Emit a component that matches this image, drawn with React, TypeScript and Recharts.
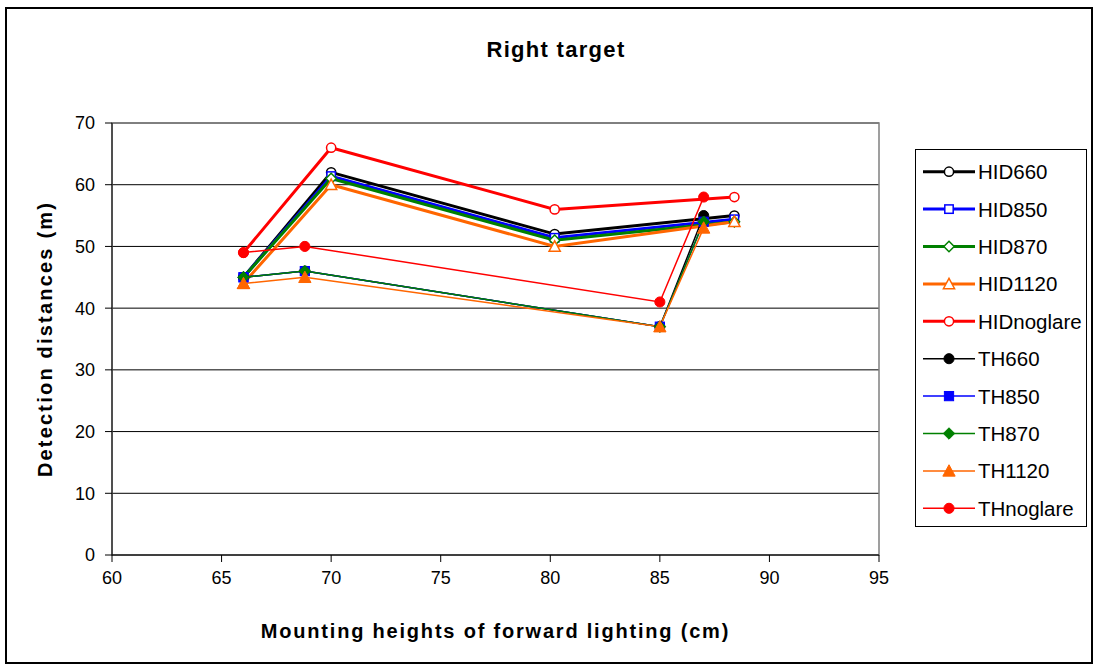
import React from "react";
import {
  LineChart,
  Line,
  XAxis,
  YAxis,
  CartesianGrid,
  ReferenceArea,
} from "recharts";

// x positions (cm) for the two lamp groups
const hidHeights = [66, 70, 80.2, 88.4];
const thHeights = [66, 68.8, 85, 87];

// detection distances (m)
const hid660 = [45, 62, 52, 55];
const hid850 = [45, 61.4, 51.4, 54.4];
const hid870 = [45, 61, 51, 54];
const hid1120 = [44, 60, 50, 54];
const hidNoglare = [49, 66, 56, 58];
const th660 = [45, 46, 37, 55];
const th850 = [45, 46, 37, 54];
const th870 = [45, 46, 37, 54];
const th1120 = [44, 45, 37, 53];
const thNoglare = [49, 50, 41, 58];

const xTicks = [60, 65, 70, 75, 80, 85, 90, 95];
const yTicks = [0, 10, 20, 30, 40, 50, 60, 70];

type Shape = "circle" | "square" | "diamond" | "triangle";

const series = [
  { name: "HID660", xs: hidHeights, ys: hid660, color: "#000000", shape: "circle", filled: false },
  { name: "HID850", xs: hidHeights, ys: hid850, color: "#0000ff", shape: "square", filled: false },
  { name: "HID870", xs: hidHeights, ys: hid870, color: "#008000", shape: "diamond", filled: false },
  { name: "HID1120", xs: hidHeights, ys: hid1120, color: "#ff6600", shape: "triangle", filled: false },
  { name: "HIDnoglare", xs: hidHeights, ys: hidNoglare, color: "#ff0000", shape: "circle", filled: false },
  { name: "TH660", xs: thHeights, ys: th660, color: "#000000", shape: "circle", filled: true },
  { name: "TH850", xs: thHeights, ys: th850, color: "#0000ff", shape: "square", filled: true },
  { name: "TH870", xs: thHeights, ys: th870, color: "#008000", shape: "diamond", filled: true },
  { name: "TH1120", xs: thHeights, ys: th1120, color: "#ff6600", shape: "triangle", filled: true },
  { name: "THnoglare", xs: thHeights, ys: thNoglare, color: "#ff0000", shape: "circle", filled: true },
] as { name: string; xs: number[]; ys: number[]; color: string; shape: Shape; filled: boolean }[];

const FONT = "Arial, 'Liberation Sans', sans-serif";

function Marker({ cx, cy, shape, color, filled }: { cx: number; cy: number; shape: Shape; color: string; filled: boolean }) {
  const fill = filled ? color : "#ffffff";
  const sw = filled ? 1 : 1.5;
  const s = filled ? 1.1 : 1;
  if (shape === "circle") {
    return <circle cx={cx} cy={cy} r={4.6 * s} fill={fill} stroke={color} strokeWidth={sw} />;
  }
  if (shape === "square") {
    const h = 4.2 * s;
    return <rect x={cx - h} y={cy - h} width={h * 2} height={h * 2} fill={fill} stroke={color} strokeWidth={sw} />;
  }
  if (shape === "diamond") {
    const h = 5.2 * s;
    return (
      <polygon
        points={`${cx},${cy - h} ${cx + h},${cy} ${cx},${cy + h} ${cx - h},${cy}`}
        fill={fill}
        stroke={color}
        strokeWidth={sw}
      />
    );
  }
  const h = 5.6 * s;
  return (
    <polygon
      points={`${cx},${cy - h} ${cx + h},${cy + h * 0.85} ${cx - h},${cy + h * 0.85}`}
      fill={fill}
      stroke={color}
      strokeWidth={sw}
    />
  );
}

function LegendBox() {
  return (
    <svg width={172} height={378} style={{ display: "block" }}>
      <rect x={0.5} y={0.5} width={171} height={377} fill="#fff" stroke="#000" strokeWidth={1} />
      {series.map((s, i) => {
        const y = 22.7 + i * 37.4;
        return (
          <g key={s.name}>
            <line x1={8} x2={60} y1={y} y2={y} stroke={s.color} strokeWidth={s.filled ? 1.5 : 3} />
            <Marker cx={34} cy={y} shape={s.shape} color={s.color} filled={s.filled} />
            <text x={63} y={y + 7.5} fontSize={20.5} fontFamily={FONT} fill="#000">
              {s.name}
            </text>
          </g>
        );
      })}
    </svg>
  );
}

export default function App() {
  return (
    <div style={{ position: "absolute", left: 0, top: 0, width: 1098, height: 669, background: "#fff", fontFamily: FONT }}>
      <div
        style={{
          position: "absolute",
          left: 5,
          top: 7,
          width: 1084,
          height: 653,
          border: "2px solid #000",
        }}
      />
      <div
        style={{
          position: "absolute",
          left: 0,
          width: 1112,
          top: 37,
          textAlign: "center",
          fontWeight: "bold",
          fontSize: 22,
          letterSpacing: 1.3,
        }}
      >
        Right target
      </div>
      <div style={{ position: "absolute", left: 0, top: 0 }}>
        <LineChart
          width={1098}
          height={669}
          margin={{ top: 123, right: 219, bottom: 0, left: 22 }}
        >
          <CartesianGrid vertical={false} stroke="#000" strokeWidth={1} />
          <ReferenceArea x1={60} x2={95} y1={0} y2={70} fill="none" stroke="#808080" strokeWidth={1.5} />
          <XAxis
            dataKey="x"
            type="number"
            domain={[60, 95]}
            ticks={xTicks}
            allowDataOverflow
            height={114}
            stroke="#000"
            tickSize={7}
            tickMargin={9}
            tick={{ fill: "#000", fontSize: 18, fontFamily: FONT }}
            label={{
              value: "Mounting heights of forward lighting (cm)",
              position: "insideTop",
              offset: 69,
              style: { fontWeight: "bold", fontSize: 20, fill: "#000", fontFamily: FONT, letterSpacing: 1.8 },
            }}
          />
          <YAxis
            type="number"
            domain={[0, 70]}
            ticks={yTicks}
            allowDataOverflow
            width={90}
            stroke="#000"
            tickSize={7}
            tickMargin={10}
            tick={{ fill: "#000", fontSize: 18, fontFamily: FONT }}
            label={{
              value: "Detection distances (m)",
              angle: -90,
              position: "center",
              dx: -22,
              style: { fontWeight: "bold", fontSize: 20, fill: "#000", fontFamily: FONT, textAnchor: "middle", letterSpacing: 2.2 },
            }}
          />
          {series.map((s) => (
            <Line
              key={s.name}
              data={s.xs.map((x, i) => ({ x, y: s.ys[i] }))}
              dataKey="y"
              name={s.name}
              type="linear"
              stroke={s.color}
              strokeWidth={s.filled ? 1.5 : 3}
              isAnimationActive={false}
              dot={(p: any) => (
                <Marker key={`${s.name}-${p.index}`} cx={p.cx} cy={p.cy} shape={s.shape} color={s.color} filled={s.filled} />
              )}
              activeDot={false}
            />
          ))}
        </LineChart>
      </div>
      <div style={{ position: "absolute", left: 915, top: 149 }}>
        <LegendBox />
      </div>
    </div>
  );
}
